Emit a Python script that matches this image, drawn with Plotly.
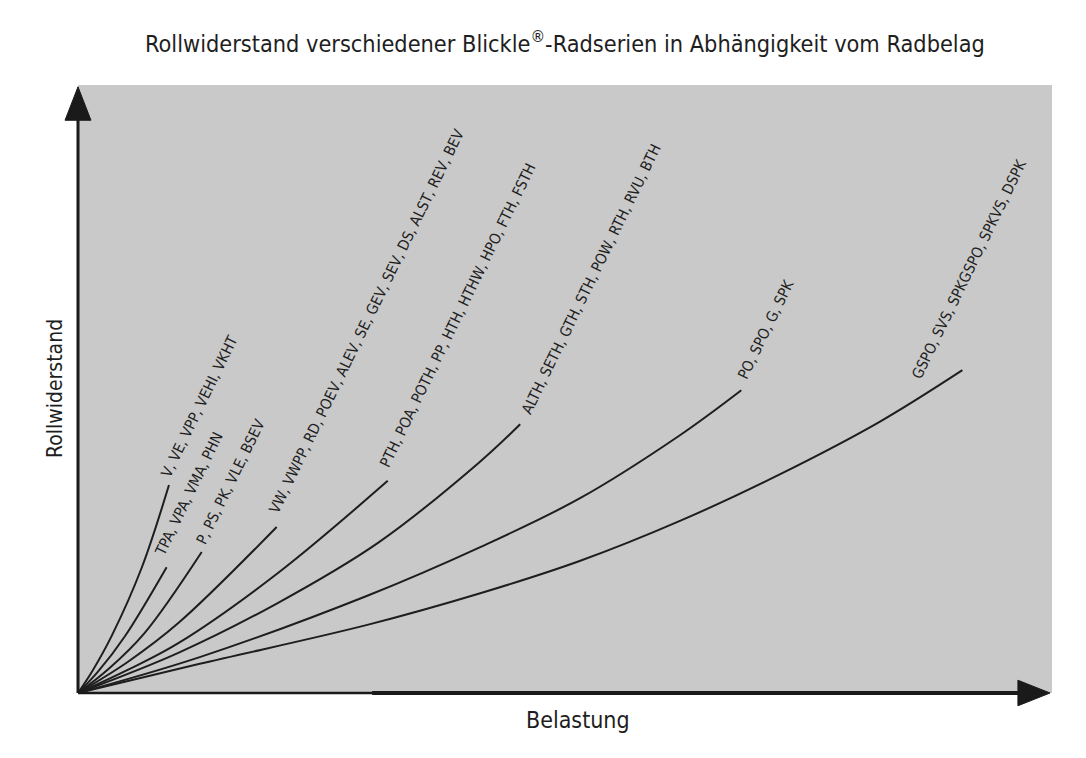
import plotly.graph_objects as go

# Series: Belastung (x) vs Rollwiderstand (y), relative units 0-100
labels = [
    "V, VE, VPP, VEHI, VKHT",
    "TPA, VPA, VMA, PHN",
    "P, PS, PK, VLE, BSEV",
    "VW, VWPP, RD, POEV, ALEV, SE, GEV, SEV, DS, ALST, REV, BEV",
    "PTH, POA, POTH, PP, HTH, HTHW, HPO, FTH, FSTH",
    "ALTH, SETH, GTH, STH, POW, RTH, RVU, BTH",
    "PO, SPO, G, SPK",
    "GSPO, SVS, SPKGSPO, SPKVS, DSPK",
]
x_v = [0, 1.54, 3.46, 6.54, 9.34]
y_v = [0, 3.8, 9.4, 20.6, 34.2]
x_tpa = [0, 2.05, 4.8, 9.1]
y_tpa = [0, 3.5, 9.3, 20.7]
x_p = [0, 3.1, 6.85, 12.7]
y_p = [0, 3.9, 9.9, 23.2]
x_vw = [0, 5.1, 10.3, 20.4]
y_vw = [0, 5.1, 11.5, 27.3]
x_pth = [0, 5.1, 10.3, 20.5, 31.8]
y_pth = [0, 3.8, 8.2, 19.7, 34.9]
x_alth = [0, 10.3, 20.5, 30.8, 41.1, 45.4]
y_alth = [0, 6.6, 14.8, 24.7, 37.8, 44.2]
x_po = [0, 12.5, 29.7, 41.3, 51.5, 61.8, 68.1]
y_po = [0, 5.9, 16.0, 24.0, 32.0, 42.4, 49.8]
x_gspo = [0, 12.5, 29.7, 41.3, 51.5, 61.8, 72.1, 82.3, 90.8]
y_gspo = [0, 4.8, 11.2, 16.4, 21.7, 28.3, 36.0, 44.6, 53.1]

series_x = [x_v, x_tpa, x_p, x_vw, x_pth, x_alth, x_po, x_gspo]
series_y = [y_v, y_tpa, y_p, y_vw, y_pth, y_alth, y_po, y_gspo]
# label offsets in pixels (styling)
label_shift = [(-14, 2), (-18, 6), (-12, 2), (-14, 8), (-14, 8), (-5, 5), (-10, 6), (-57, -14)]

FONT = "DejaVu Sans Condensed, Liberation Sans Narrow, sans-serif"

fig = go.Figure()
for xs, ys in zip(series_x, series_y):
    fig.add_trace(go.Scatter(x=xs, y=ys, mode="lines",
                             line=dict(color="#1e1e1e", width=2, shape="spline", smoothing=1.0),
                             showlegend=False, hoverinfo="skip"))

annotations = []
for lab, xs, ys, (sx, sy) in zip(labels, series_x, series_y, label_shift):
    annotations.append(dict(x=xs[-1], y=ys[-1], xref="x", yref="y", text=lab,
                            showarrow=False, textangle=-64, xanchor="left", yanchor="bottom",
                            xshift=sx, yshift=sy,
                            font=dict(family=FONT, size=15, color="#1e1e1e")))

annotations.append(dict(x=0.5, y=1, xref="paper", yref="paper", yshift=43,
                        text="Rollwiderstand verschiedener Blickle<sup>®</sup>-Radserien in Abhängigkeit vom Radbelag",
                        showarrow=False, xanchor="center", yanchor="middle",
                        font=dict(family=FONT, size=23.3, color="#1e1e1e")))
annotations.append(dict(x=0, y=0.5, xref="paper", yref="paper", xshift=-23,
                        text="Rollwiderstand", textangle=-90, showarrow=False,
                        xanchor="center", yanchor="middle",
                        font=dict(family=FONT, size=21, color="#1e1e1e")))
annotations.append(dict(x=0.5, y=0, xref="paper", yref="paper", yshift=-27, xshift=13,
                        text="Belastung", showarrow=False,
                        xanchor="center", yanchor="middle",
                        font=dict(family=FONT, size=23, color="#1e1e1e")))

shapes = [
    # y axis line and arrow
    dict(type="line", xref="x domain", yref="y domain", x0=0, x1=0, y0=0, y1=0.95,
         line=dict(color="#1a1a1a", width=3)),
    dict(type="path", xref="x domain", yref="y domain",
         path="M -0.0133,0.942 L 0.0133,0.942 L 0,0.997 Z",
         fillcolor="#1a1a1a", line=dict(color="#1a1a1a", width=1)),
    # x axis line (thin left part, thicker right part as in the print) and arrow
    dict(type="line", xref="x domain", yref="y domain", x0=0, x1=0.97, y0=0, y1=0,
         line=dict(color="#1a1a1a", width=2.5)),
    dict(type="line", xref="x domain", yref="y domain", x0=0.302, x1=0.97, y0=0, y1=0,
         line=dict(color="#1a1a1a", width=4)),
    dict(type="path", xref="x domain", yref="y domain",
         path="M 0.965,-0.021 L 0.965,0.021 L 0.998,0 Z",
         fillcolor="#1a1a1a", line=dict(color="#1a1a1a", width=1)),
]

# page body has an 8px margin; margins compensate so the plot sits where the reference has it
fig.update_layout(
    width=1078, height=750, autosize=False,
    margin=dict(l=70, r=34, t=77, b=65),
    paper_bgcolor="white", plot_bgcolor="#c9c9c9",
    xaxis=dict(range=[0, 100], visible=False, fixedrange=True),
    yaxis=dict(range=[0, 100], visible=False, fixedrange=True),
    annotations=annotations, shapes=shapes,
    showlegend=False,
)

fig.write_html("out.html")
